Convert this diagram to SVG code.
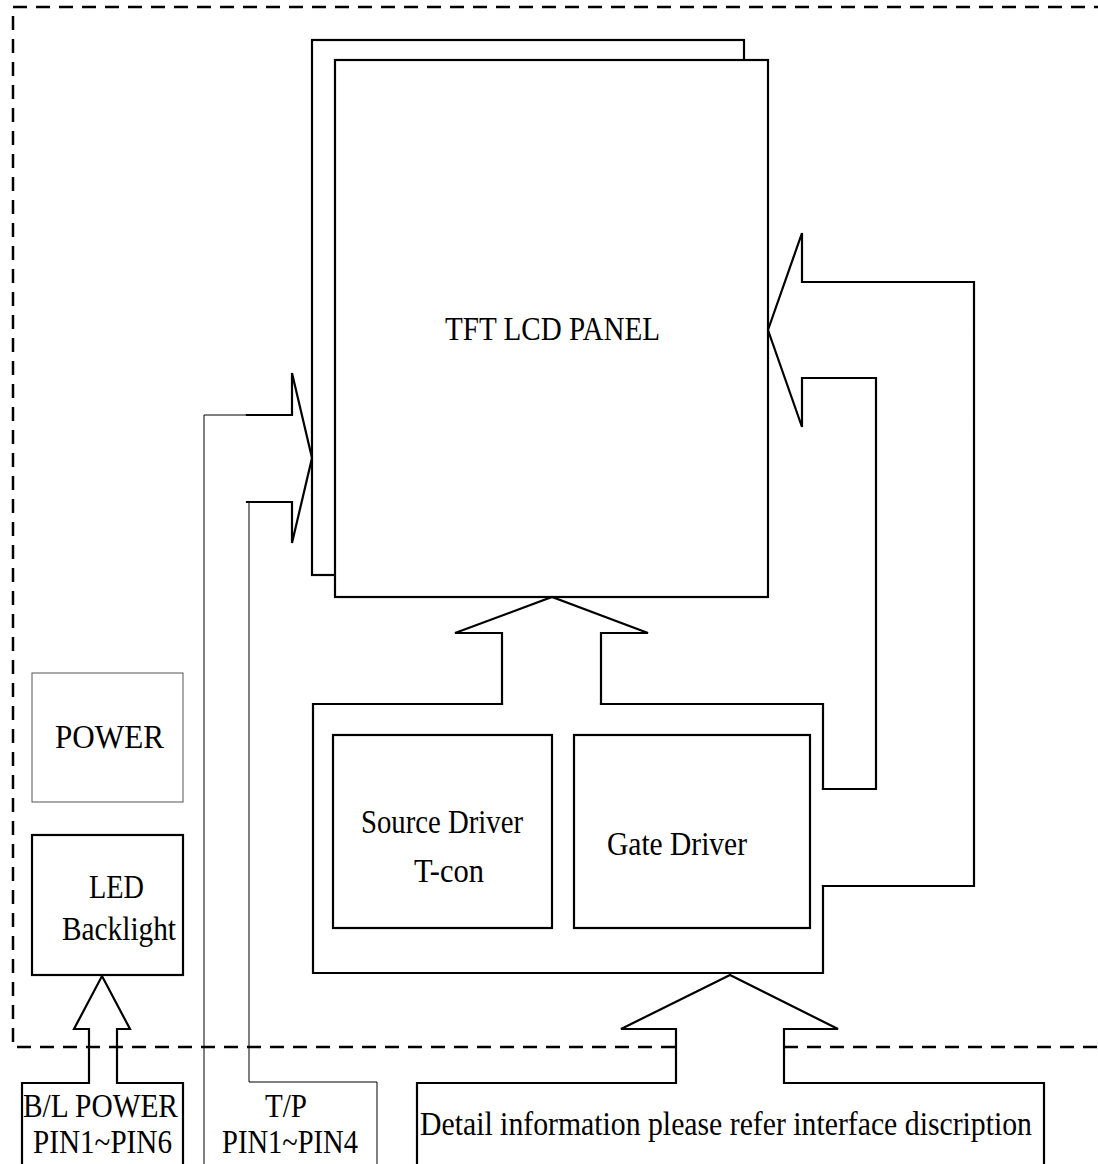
<svg xmlns="http://www.w3.org/2000/svg" width="1098" height="1164" viewBox="0 0 1098 1164">
<style>
.thick{fill:none;stroke:#000;stroke-width:2.2;stroke-linejoin:miter;stroke-linecap:square}
.thin{fill:none;stroke:#000;stroke-width:1}
.dash{fill:none;stroke:#000;stroke-width:2.5;stroke-dasharray:14 9}
.box{fill:#fff;stroke:#000;stroke-width:2.2}
text{font-family:"Liberation Serif","Times New Roman",serif;font-size:33px;fill:#000}
</style>
<rect width="1098" height="1164" fill="#fff"/>
<g id="boundary">
<path class="dash" d="M675,1047 L13,1047 L13,7 L1098,7"/>
<path class="dash" d="M784,1047 L1098,1047"/>
</g>
<g id="tft-lcd-panel">
<rect class="box" x="312" y="40" width="432" height="535"/>
<rect class="box" x="335" y="60" width="433" height="537"/>
<text x="445" y="340" textLength="215" lengthAdjust="spacingAndGlyphs">TFT LCD PANEL</text>
</g>
<g id="driver-board">
<polyline class="thick" points="502,704 313,704 313,973 823,973 823,886"/>
<polyline class="thick" points="601,704 823,704 823,789"/>
</g>
<g id="source-driver">
<rect class="box" x="333" y="735" width="219" height="193"/>
<text x="361" y="833" textLength="162" lengthAdjust="spacingAndGlyphs">Source Driver</text>
<text x="414" y="882" textLength="70" lengthAdjust="spacingAndGlyphs">T-con</text>
</g>
<g id="gate-driver">
<rect class="box" x="574" y="735" width="236" height="193"/>
<text x="607" y="855" textLength="140" lengthAdjust="spacingAndGlyphs">Gate Driver</text>
</g>
<g id="power">
<rect x="32" y="673" width="151" height="129" fill="#fff" stroke="#555" stroke-width="1"/>
<text x="55" y="748" textLength="109" lengthAdjust="spacingAndGlyphs">POWER</text>
</g>
<g id="led-backlight">
<rect class="box" x="32" y="835" width="151" height="140"/>
<text x="89" y="898" textLength="55" lengthAdjust="spacingAndGlyphs">LED</text>
<text x="62" y="940" textLength="114" lengthAdjust="spacingAndGlyphs">Backlight</text>
</g>
<g id="bl-power">
<text x="23" y="1117" textLength="155" lengthAdjust="spacingAndGlyphs">B/L POWER</text>
<text x="33" y="1153" textLength="139" lengthAdjust="spacingAndGlyphs">PIN1~PIN6</text>
</g>
<g id="tp">
<text x="265" y="1117" textLength="42" lengthAdjust="spacingAndGlyphs">T/P</text>
<text x="222" y="1153" textLength="136" lengthAdjust="spacingAndGlyphs">PIN1~PIN4</text>
</g>
<g id="interface">
<text x="420" y="1135" textLength="612" lengthAdjust="spacingAndGlyphs">Detail information please refer interface discription</text>
</g>
<g id="connectors">
<polyline class="thick" points="502,704 502,633 455,633 552,597 648,633 601,633 601,704"/>
<polyline class="thick" points="823,789 876,789 876,378 802,378 802,427 768,330 802,233 802,282 974,282 974,886 823,886"/>
<polyline class="thick" points="417,1164 417,1083 676,1083 676,1029 621,1029 730,975 838,1029 784,1029 784,1083 1044,1083 1044,1164"/>
<polyline class="thick" points="22,1164 22,1083 89,1083 89,1029 74,1029 102,976 130,1029 117,1029 117,1083 183,1083 183,1164"/>
<polyline class="thick" points="247,415 292,415 292,373 312,458 292,543 292,502 247,502"/>
<polyline class="thin" points="247,415 204,415 204,1164"/>
<polyline class="thin" points="249,502 249,1082 377,1082 377,1164"/>
</g>
</svg>
